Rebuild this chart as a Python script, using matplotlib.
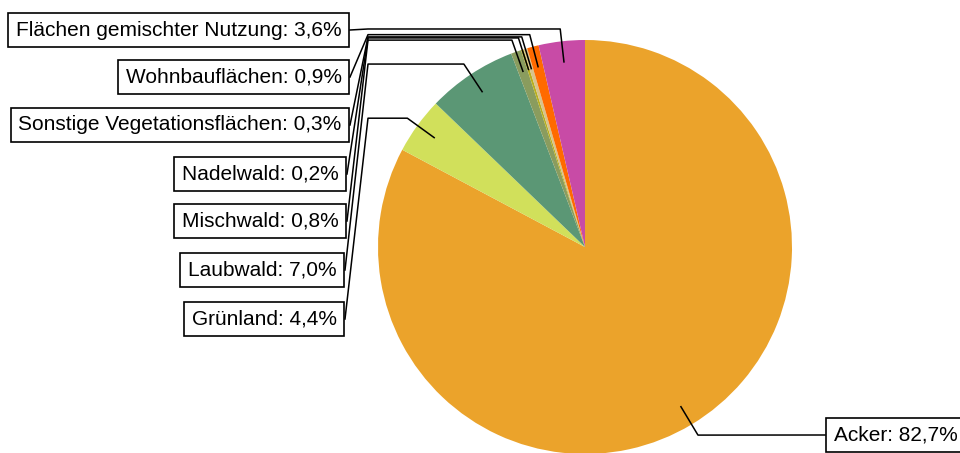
import numpy as np
import matplotlib
matplotlib.use('Agg')
import matplotlib.pyplot as plt

plt.rcParams['font.family'] = ['Liberation Sans', 'DejaVu Sans']

# data: clockwise from 12 o'clock
labels = ['Acker', 'Grünland', 'Laubwald', 'Mischwald', 'Nadelwald',
          'Sonstige Vegetationsflächen', 'Wohnbauflächen', 'Flächen gemischter Nutzung']
values = [82.7, 4.4, 7.0, 0.8, 0.2, 0.3, 0.9, 3.6]
colors = ['#EBA32B', '#D1E05B', '#5B9775', '#8A9C5E', '#B8AE1E',
          '#D8C38C', '#FF6A00', '#C84BA6']

# label box layout (pixel coords, y from top): right edge / left edge, centre y
box_x = [825, 345, 345, 347, 347, 350, 350, 350]
box_y = [435, 319, 270, 221, 174, 125, 77, 30]
box_side = ['right', 'left', 'left', 'left', 'left', 'left', 'left', 'left']

W, H = 960, 453
cx, cy, R = 585, H - 247, 207
fs = 15
pad = 0.36

fig = plt.figure(figsize=(9.6, 4.53), dpi=100)
ax = fig.add_axes([0, 0, 1, 1])

wedges, _ = ax.pie(values, colors=colors, startangle=90, counterclock=False,
                   center=(cx, cy), radius=R, frame=True,
                   wedgeprops=dict(linewidth=0))
ax.set_xlim(0, W)
ax.set_ylim(0, H)
ax.axis('off')

pad_px = pad * fs * 100 / 72
for w, lab, v, bx, by, side in zip(wedges, labels, values, box_x, box_y, box_side):
    ang = np.deg2rad((w.theta1 + w.theta2) / 2)
    ax_, ay_ = cx + 0.9 * R * np.cos(ang), cy + 0.9 * R * np.sin(ang)
    ex, ey = cx + 1.06 * R * np.cos(ang), cy + 1.06 * R * np.sin(ang)
    by_up = H - by
    txt = f'{lab}: {v:.1f}%'.replace('.', ',')
    if side == 'left':
        xs = [ax_, ex, 368, bx]
        ys = [ay_, ey, ey, by_up]
        ax.text(bx - pad_px - 1, by_up, txt, ha='right', va='center', fontsize=fs,
                bbox=dict(boxstyle=f'square,pad={pad}', fc='white', ec='black', lw=1.2))
    else:
        xs = [ax_, ex, bx]
        ys = [ay_, ey, by_up]
        ax.text(bx + pad_px + 1, by_up, txt, ha='left', va='center', fontsize=fs,
                bbox=dict(boxstyle=f'square,pad={pad}', fc='white', ec='black', lw=1.2))
    ax.plot(xs, ys, color='black', lw=1.1, zorder=3)

fig.savefig('out.png', dpi=100)
